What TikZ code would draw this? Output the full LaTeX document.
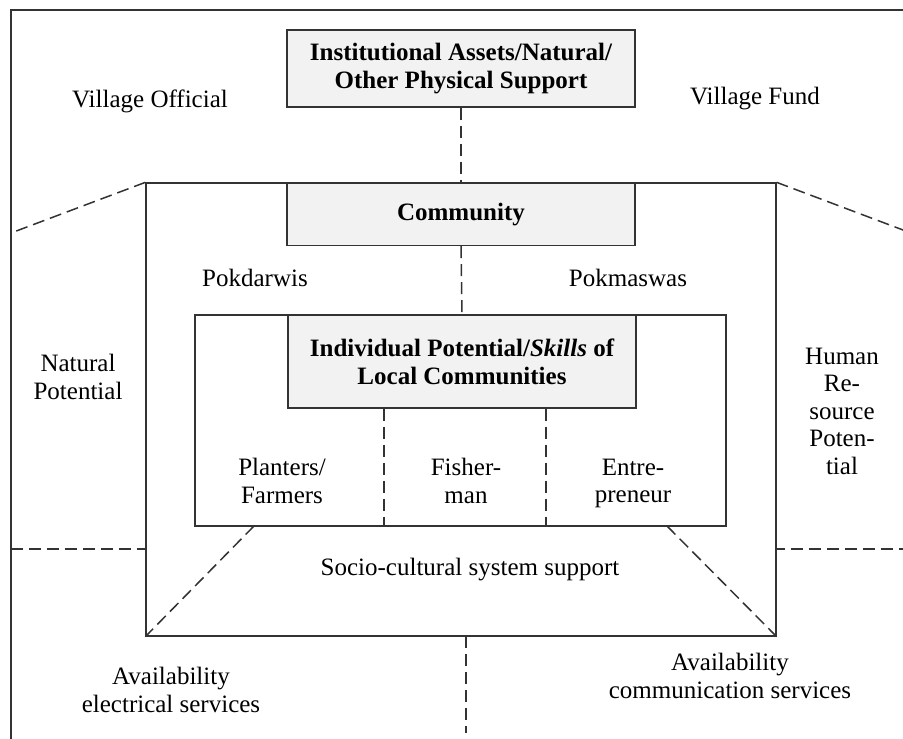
\documentclass[tikz,border=0pt]{standalone}
\usepackage{fontspec}
\setmainfont{Liberation Serif}
\begin{document}
\begin{tikzpicture}[x=1pt,y=-1pt,
  box/.style={draw=black!80,line width=1.3pt,inner sep=0pt},
  gbox/.style={box,fill=black!5,font=\fontsize{25}{28}\selectfont\bfseries,align=center},
  lbl/.style={inner sep=0pt,align=center,font=\fontsize{25}{27.5}\selectfont},
  dsh/.style={draw=black!80,line width=1.5pt,dash pattern=on 12pt off 6pt}]
\useasboundingbox (0,0) rectangle (903,739);
\clip (0,0) rectangle (903,739);
% outer frame
\draw[draw=black!80,line width=1.3pt] (11,760) -- (11,10) -- (930,10);
% boxes
\node[box,minimum width=630pt,minimum height=453pt] (mid) at (461,409.5) {};
\node[box,minimum width=531pt,minimum height=211pt] (inner) at (460.5,420.5) {};
\node[gbox,minimum width=348pt,minimum height=77pt] (top) at (461,68.5) {Institutional Assets/Natural/\\Other Physical Support};
\node[gbox,minimum width=348pt,minimum height=62pt] (comm) at (461,214.5) {Community};
\node[gbox,minimum width=348pt,minimum height=93pt] (indiv) at (462,361.5) {Individual Potential/\textit{Skills} of\\Local Communities};
% coordinates
\coordinate (d1) at (384,0);
\coordinate (d2) at (546,0);
\coordinate (tl) at (254,526);
\coordinate (tr) at (667,526);
\coordinate (fl) at (11,233);
\coordinate (fr) at (911,233);
\coordinate (hl) at (11,549);
\coordinate (hr) at (911,549);
\coordinate (bt) at (466,636);
\coordinate (bb) at (466,733);
% connectors
\draw[dsh] (top.south) -- (comm.north);
\draw[dsh] (comm.south) -- (indiv.north);
\draw[dsh] (indiv.south -| d1) -- (inner.south -| d1);
\draw[dsh] (indiv.south -| d2) -- (inner.south -| d2);
\draw[dsh] (tl) -- (mid.south west);
\draw[dsh] (tr) -- (mid.south east);
\draw[dsh] (mid.north west) -- (fl);
\draw[dsh] (mid.north east) -- (fr);
\draw[dsh] (hl) -- (hl -| mid.west);
\draw[dsh] (hr) -- (hr -| mid.east);
\draw[dsh] (bt) -- (bb);
% labels
\node[lbl] (vo) at (150,101) {Village Official};
\node[lbl] (vf) at (755,99) {Village Fund};
\node[lbl] (pd) at (255,278) {Pokdarwis};
\node[lbl] (pm) at (628,278) {Pokmaswas};
\node[lbl] (np) at (78,377) {Natural\\Potential};
\node[lbl] (hp) at (842,411) {Human\\Re-\\source\\Poten-\\tial};
\node[lbl] (pf) at (282,481) {Planters/\\Farmers};
\node[lbl] (fm) at (466,481) {Fisher-\\man};
\node[lbl] (en) at (633,483.5) {Entre-\\preneur};
\node[lbl] (sc) at (470,570) {Socio-cultural system support};
\node[lbl] (ae) at (171,690) {Availability\\electrical services};
\node[lbl] (ac) at (730,676) {Availability\\communication services};
\end{tikzpicture}
\end{document}
